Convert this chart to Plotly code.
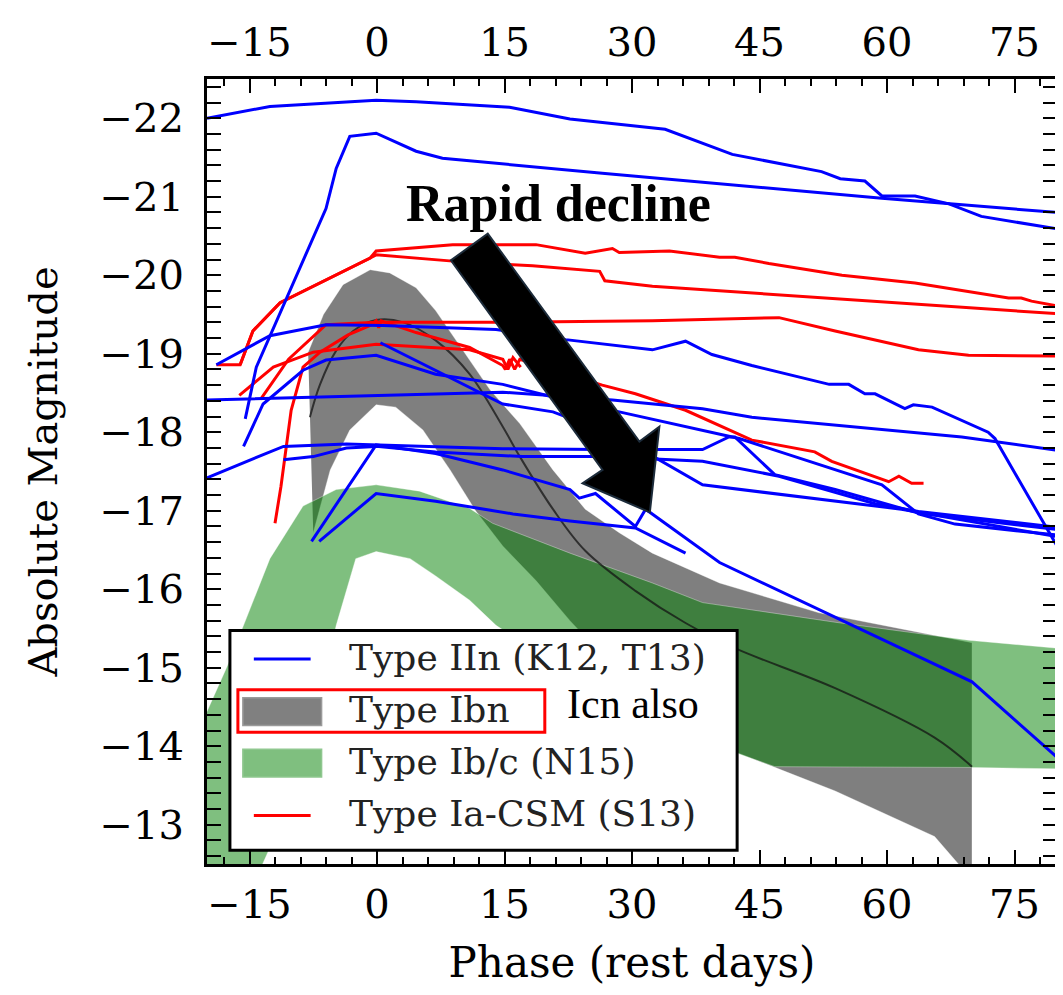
import plotly.graph_objects as go

# ---------------- data (phase in rest days, absolute magnitude) ----------------
# Type IIn light curves (K12, T13)
IIN_1_X = [-20, -12.6, -0.1, 4.6, 15.6, 22.7, 33.9, 41.8, 52.3, 54.5, 57.4, 59.4, 63.3, 67.3, 71.1, 80]
IIN_1_Y = [-22.0, -22.15, -22.23, -22.21, -22.14, -21.99, -21.86, -21.54, -21.32, -21.23, -21.2, -21.01, -21.01, -20.91, -20.75, -20.59]
IIN_2_X = [-15.5, -14.2, -6.0, -4.8, -3.2, -0.1, 4.6, 7.7, 26.5, 59.4, 80]
IIN_2_Y = [-18.17, -18.83, -20.85, -21.36, -21.77, -21.81, -21.58, -21.49, -21.3, -20.98, -20.8]
IIN_3_X = [-18.9, -12.6, -6.0, 0.7, 14.0, 22.2, 32.4, 36.3, 39.4, 44.1, 53.2, 55.5, 57.4, 58.6, 62.1, 63.1, 65.3, 71.9, 72.7, 80]
IIN_3_Y = [-18.86, -19.23, -19.37, -19.36, -19.31, -19.18, -19.05, -19.16, -18.99, -18.85, -18.61, -18.61, -18.49, -18.49, -18.3, -18.35, -18.32, -18.0, -17.92, -16.55]
IIN_4_X = [-20, 14.8, 27.7, 38.3, 44.1, 68.8, 80]
IIN_4_Y = [-18.41, -18.51, -18.41, -18.3, -18.19, -17.94, -17.77]
IIN_5_X = [-20, -11.0, -3.6, -0.1, 6.9, 14.8, 26.5, 38.3, 41.4, 42.1, 46.8, 53.9, 63.7, 80]
IIN_5_Y = [-17.42, -17.82, -17.85, -17.84, -17.82, -17.79, -17.78, -17.78, -17.94, -17.94, -17.46, -17.27, -16.97, -16.76]
IIN_6_X = [-11.0, -7.5, -3.6, -0.1, 6.9, 17.1, 26.5, 38.3, 47.3, 58.6, 63.7, 80]
IIN_6_Y = [-17.65, -17.69, -17.8, -17.82, -17.75, -17.69, -17.69, -17.63, -17.44, -17.09, -16.99, -16.79]
IIN_7_X = [-7.7, -0.1, 6.9, 14.8, 22.7, 23.8, 25.7, 30.4, 31.6, 40.3, 70.0, 80]
IIN_7_Y = [-16.61, -17.84, -17.73, -17.52, -17.27, -17.16, -17.22, -16.8, -17.02, -16.34, -14.82, -13.86]
IIN_8_X = [-6.8, -0.1, 6.9, 16.0, 22.7, 30.4, 36.3]
IIN_8_Y = [-16.61, -17.22, -17.12, -16.96, -16.87, -16.78, -16.46]
IIN_9_X = [-15.7, -13.4, -8.7, -6.0, -0.1, 6.9, 14.8, 20.7, 28.5, 38.3, 42.6, 59.4, 63.7, 68.0, 80]
IIN_9_Y = [-17.82, -18.36, -18.79, -18.92, -18.98, -18.74, -18.61, -18.45, -18.26, -18.03, -17.92, -17.33, -16.96, -16.83, -16.69]
IIN_10_X = [0.4, 6.9, 14.8, 20.7, 28.5, 38.3, 61.7, 80]
IIN_10_Y = [-19.14, -18.79, -18.36, -18.26, -17.94, -17.33, -17.02, -16.67]

# Type Ia-CSM light curves (S13)
IACSM_1_X = [-16.1, -14.6, -11.4, -0.8, -0.1, 8.9, 18.7, 24.5, 27.7, 28.5, 34.4, 40.3, 42.1, 46.1, 54.7, 63.3, 74.3, 75.8, 77.0, 80]
IACSM_1_Y = [-18.86, -19.29, -19.65, -20.22, -20.31, -20.39, -20.39, -20.28, -20.34, -20.29, -20.31, -20.23, -20.23, -20.15, -20.0, -19.9, -19.71, -19.71, -19.67, -19.61]
IACSM_2_X = [-18.9, -16.1, -14.6, -11.4, -0.8, -0.1, 8.9, 18.3, 26.2, 26.8, 32.4, 80]
IACSM_2_Y = [-18.86, -18.86, -19.29, -19.65, -20.22, -20.26, -20.18, -20.12, -20.05, -19.93, -19.86, -19.51]
IACSM_3_X = [-13.7, -10.4, -6.0, -0.1, 14.8, 32.4, 47.3, 53.9, 63.7, 69.6, 80]
IACSM_3_Y = [-18.42, -18.93, -19.37, -19.4, -19.4, -19.42, -19.46, -19.29, -19.05, -18.98, -18.97]
IACSM_4_X = [-12.0, -11.3, -10.1, -8.7, -6.7, -3.4, -0.8, -0.1, 0.2, 0.5, 4.6, 10.9, 14.8, 15.1, 15.6, 16.2, 16.8, 26.5, 30.4, 36.3, 44.1, 51.5, 53.5, 60.2, 61.4, 62.9, 64.3]
IACSM_4_Y = [-16.84, -17.31, -18.28, -18.83, -19.02, -19.24, -19.36, -19.42, -19.33, -19.42, -19.27, -19.08, -18.85, -18.8, -18.93, -18.8, -18.93, -18.6, -18.49, -18.28, -17.9, -17.75, -17.63, -17.37, -17.44, -17.35, -17.35]
IACSM_5_X = [-16.2, -12.2, -7.5, -0.1, 10.9, 14.8, 15.4, 16.0, 16.9]
IACSM_5_Y = [-18.47, -18.83, -19.02, -19.12, -19.05, -18.93, -18.8, -18.95, -18.83]

# Type Ibn template: median and envelope
IBN_MED_X = [-7.9, -6.7, -4.8, -2.8, -0.1, 3.1, 6.9, 10.9, 14.8, 16.8, 20.7, 24.5, 30.4, 36.3, 42.1, 53.9, 65.6, 70.0]
IBN_MED_Y = [-18.19, -18.61, -19.04, -19.29, -19.43, -19.4, -19.17, -18.74, -18.07, -17.69, -17.02, -16.49, -15.98, -15.57, -15.25, -14.74, -14.11, -13.74]
IBN_UP_X = [-8.1, -6.3, -4.0, -0.8, 1.5, 4.6, 6.9, 10.1, 13.3, 16.8, 20.7, 24.5, 28.5, 32.4, 40.3, 52.0, 61.7, 70.0]
IBN_UP_Y = [-19.02, -19.5, -19.88, -20.07, -20.03, -19.84, -19.55, -19.04, -18.54, -18.11, -17.52, -17.02, -16.72, -16.46, -16.08, -15.7, -15.5, -15.32]
IBN_LO_X = [-7.5, -5.5, -3.2, -0.1, 2.2, 5.4, 8.6, 11.6, 14.8, 18.7, 22.7, 26.5, 32.4, 42.1, 53.9, 65.6, 70.0]
IBN_LO_Y = [-16.72, -17.52, -18.03, -18.35, -18.32, -18.03, -17.52, -17.0, -16.55, -16.11, -15.6, -15.16, -14.65, -13.93, -13.43, -12.85, -12.3]

# Type Ib/c template envelope (N15)
IBC_UP_X = [-21.0, -17.7, -15.7, -12.6, -8.7, -4.8, -0.1, 5.0, 10.9, 13.6, 22.7, 32.4, 38.3, 53.9, 69.6, 81.0]
IBC_UP_Y = [-14.2, -15.0, -15.54, -16.39, -17.06, -17.27, -17.33, -17.25, -17.03, -16.84, -16.46, -16.08, -15.83, -15.58, -15.35, -15.24]
IBC_LO_X = [81.0, 70.0, 46.8, 42.1, 26.5, 14.0, 10.9, 6.9, 3.9, -0.1, -2.5, -4.8, -7.5, -9.8, -13.5, -15.0, -21.0]
IBC_LO_Y = [-13.71, -13.73, -13.74, -13.92, -14.65, -15.54, -15.86, -16.17, -16.39, -16.48, -16.39, -15.54, -14.28, -13.39, -12.49, -11.5, -11.5]

# Axis settings
X_RANGE = [-20, 80]
Y_RANGE = [-12.5, -22.5]

# "Rapid decline" arrow outline (data coordinates)
ARROW_X = [8.69, 13.03, 30.87, 33.22, 32.1, 24.18, 26.53]
ARROW_Y = [-20.19, -20.53, -17.88, -18.07, -16.98, -17.35, -17.52]

BLUE = "#0000ff"
RED = "#ff0000"
SERIF = "DejaVu Serif"

fig = go.Figure()

# Ibn envelope (grey)
fig.add_trace(go.Scatter(
    x=IBN_UP_X + IBN_LO_X[::-1], y=IBN_UP_Y + IBN_LO_Y[::-1],
    fill="toself", fillcolor="rgba(0,0,0,0.5)", mode="lines",
    line=dict(color="rgba(255,255,255,0.35)", width=1),
    name="Type Ibn", showlegend=False, hoverinfo="skip"))

# Ib/c envelope (green)
fig.add_trace(go.Scatter(
    x=IBC_UP_X + IBC_LO_X, y=IBC_UP_Y + IBC_LO_Y,
    fill="toself", fillcolor="rgba(0,128,0,0.5)", mode="lines",
    line=dict(color="rgba(255,255,255,0.35)", width=1),
    name="Type Ib/c (N15)", showlegend=False, hoverinfo="skip"))

# Ibn median
fig.add_trace(go.Scatter(
    x=IBN_MED_X, y=IBN_MED_Y, mode="lines", line_shape="spline",
    line=dict(color="rgba(20,20,20,0.75)", width=2),
    showlegend=False, hoverinfo="skip"))

red_curves = [(IACSM_1_X, IACSM_1_Y), (IACSM_2_X, IACSM_2_Y), (IACSM_3_X, IACSM_3_Y),
              (IACSM_4_X, IACSM_4_Y), (IACSM_5_X, IACSM_5_Y)]
for xs, ys in red_curves:
    fig.add_trace(go.Scatter(x=xs, y=ys, mode="lines", line=dict(color=RED, width=3),
                             showlegend=False, hoverinfo="skip"))

blue_curves = [(IIN_1_X, IIN_1_Y), (IIN_2_X, IIN_2_Y), (IIN_3_X, IIN_3_Y), (IIN_4_X, IIN_4_Y),
               (IIN_5_X, IIN_5_Y), (IIN_6_X, IIN_6_Y), (IIN_7_X, IIN_7_Y), (IIN_8_X, IIN_8_Y),
               (IIN_9_X, IIN_9_Y), (IIN_10_X, IIN_10_Y)]
for xs, ys in blue_curves:
    fig.add_trace(go.Scatter(x=xs, y=ys, mode="lines", line=dict(color=BLUE, width=3),
                             showlegend=False, hoverinfo="skip"))

# invisible trace to activate the top axis
fig.add_trace(go.Scatter(x=X_RANGE, y=[None, None], xaxis="x2", mode="lines",
                         showlegend=False, hoverinfo="skip"))

# ---------------- layout geometry ----------------
W, H = 1063, 995
L, R, T, B = 199, 11, 63, 139
PW, PH = W - L - R, H - T - B


def pxx(p):
    return (p - L) / PW


def pxy(p):
    return (H - B - p) / PH


tick_font = dict(family=SERIF, size=40, color="black")
axis_common = dict(
    showline=True, linewidth=3, linecolor="black", mirror="allticks",
    ticks="inside", ticklen=14, tickwidth=2, tickcolor="black",
    showgrid=False, zeroline=False, tickfont=tick_font,
)

fig.update_layout(
    width=W, height=H,
    margin=dict(l=L, r=R, t=T, b=B),
    paper_bgcolor="white", plot_bgcolor="white",
    showlegend=False,
    xaxis=dict(range=X_RANGE, tickmode="linear", tick0=0, dtick=15,
               minor=dict(ticks="inside", dtick=3, ticklen=7, tickwidth=1.5, tickcolor="black"),
               title=dict(text="Phase (rest days)", font=dict(family=SERIF, size=42, color="black"),
                          standoff=22),
               ticklabelstandoff=3, **axis_common),
    xaxis2=dict(range=X_RANGE, overlaying="x", side="top", tickmode="linear", tick0=0, dtick=15,
                showline=False, ticks="", showgrid=False, zeroline=False, tickfont=tick_font,
                ticklabelstandoff=14),
    yaxis=dict(range=Y_RANGE, tickmode="linear", tick0=0, dtick=1,
               minor=dict(ticks="inside", dtick=0.2, ticklen=7, tickwidth=1.5, tickcolor="black"),
               title=dict(text="Absolute Magnitude", font=dict(family=SERIF, size=40, color="black"),
                          standoff=30),
               ticklabelstandoff=12, **axis_common),
)

# Arrow
arrow_path = "M " + " L ".join(f"{x},{y}" for x, y in zip(ARROW_X, ARROW_Y)) + " Z"
shapes = [dict(type="path", path=arrow_path, xref="x", yref="y", fillcolor="black",
               line=dict(color="#1c2b3a", width=2), layer="above")]

# Manual legend
shapes.append(dict(type="rect", xref="paper", yref="paper",
                   x0=pxx(222), x1=pxx(731), y0=pxy(842), y1=pxy(620),
                   fillcolor="white", line=dict(color="black", width=3), layer="above"))
shapes.append(dict(type="line", xref="paper", yref="paper", x0=pxx(246), x1=pxx(303),
                   y0=pxy(649), y1=pxy(649), line=dict(color=BLUE, width=3), layer="above"))
shapes.append(dict(type="rect", xref="paper", yref="paper", x0=pxx(235), x1=pxx(314),
                   y0=pxy(716), y1=pxy(688), fillcolor="#808080",
                   line=dict(color="#9a9a9a", width=1.5), layer="above"))
shapes.append(dict(type="rect", xref="paper", yref="paper", x0=pxx(235), x1=pxx(314),
                   y0=pxy(768), y1=pxy(740), fillcolor="#7fbf7f",
                   line=dict(color="#8fc78f", width=1.5), layer="above"))
shapes.append(dict(type="line", xref="paper", yref="paper", x0=pxx(246), x1=pxx(303),
                   y0=pxy(807), y1=pxy(807), line=dict(color=RED, width=3), layer="above"))
# red highlight box around "Type Ibn"
shapes.append(dict(type="rect", xref="paper", yref="paper", x0=pxx(230), x1=pxx(538),
                   y0=pxy(723), y1=pxy(680), line=dict(color="#ff0000", width=3), layer="above"))

legend_labels = ["Type IIn (K12, T13)", "Type Ibn", "Type Ib/c (N15)", "Type Ia-CSM (S13)"]
legend_rows = [647, 700, 752, 805]
annotations = []
for lab, row in zip(legend_labels, legend_rows):
    annotations.append(dict(text=lab, xref="paper", yref="paper", x=pxx(339), y=pxy(row),
                            xanchor="left", yanchor="middle", showarrow=False,
                            font=dict(family=SERIF, size=36, color="#222222")))

annotations.append(dict(text="Icn also", xref="paper", yref="paper", x=pxx(558), y=pxy(694),
                        xanchor="left", yanchor="middle", showarrow=False,
                        font=dict(family="Liberation Serif", size=42, color="black")))
annotations.append(dict(text="<b>Rapid decline</b>", xref="x", yref="y", x=21.4, y=-20.92,
                        xanchor="center", yanchor="middle", showarrow=False,
                        font=dict(family="Liberation Serif", size=52, color="black")))

fig.update_layout(shapes=shapes, annotations=annotations)

fig.write_html("out.html")
